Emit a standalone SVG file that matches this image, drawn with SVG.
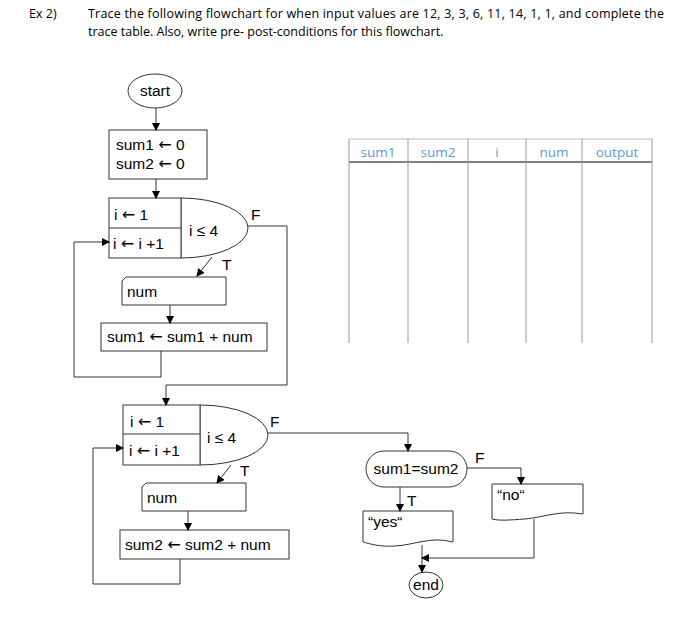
<svg xmlns="http://www.w3.org/2000/svg" width="674" height="620" viewBox="0 0 674 620">
<defs>
<marker id="ah" markerWidth="8" markerHeight="8" refX="7" refY="4" orient="auto" markerUnits="userSpaceOnUse"><path d="M0,0 L8,4 L0,8 z" fill="#000"/></marker>
<style>
.s{fill:#fff;stroke:#333;stroke-width:1}
.c{fill:none;stroke:#333;stroke-width:1}
.t{font-family:"Liberation Sans",Arial,sans-serif;font-size:15.5px;fill:#000}
.a{font-family:"DejaVu Sans",sans-serif;font-size:16px}
.h{font-family:"Open Sans","Liberation Sans",sans-serif;font-size:13.5px;fill:#5b9bd5}
.q{font-family:"Open Sans","Liberation Sans",sans-serif;font-size:12.5px;fill:#000}
.g{stroke:#999;stroke-width:1}
</style>
</defs>
<rect width="674" height="620" fill="#fff"/>
<text class="q" x="29" y="18">Ex 2)</text>
<text class="q" x="88" y="18" textLength="576">Trace the following flowchart for when input values are 12, 3, 3, 6, 11, 14, 1, 1, and complete the</text>
<text class="q" x="88" y="36">trace table. Also, write pre- post-conditions for this flowchart.</text>

<g id="table">
<line x1="349" y1="139" x2="652" y2="139" stroke="#bbb"/>
<line x1="349" y1="162" x2="652" y2="162" stroke="#000"/>
<line class="g" x1="349" y1="139" x2="349" y2="343"/>
<line class="g" x1="408" y1="139" x2="408" y2="343"/>
<line class="g" x1="468" y1="139" x2="468" y2="343"/>
<line class="g" x1="526" y1="139" x2="526" y2="343"/>
<line class="g" x1="582" y1="139" x2="582" y2="343"/>
<line class="g" x1="652" y1="139" x2="652" y2="343"/>
<text class="h" x="378" y="157" text-anchor="middle">sum1</text>
<text class="h" x="438" y="157" text-anchor="middle">sum2</text>
<text class="h" x="497" y="157" text-anchor="middle">i</text>
<text class="h" x="554" y="157" text-anchor="middle">num</text>
<text class="h" x="617" y="157" text-anchor="middle">output</text>
</g>

<g id="start"><ellipse class="s" cx="155" cy="91" rx="27" ry="17"/><text class="t" x="155" y="96" text-anchor="middle">start</text></g>
<g id="init"><rect class="s" x="109" y="130" width="98" height="49"/><text class="t" x="116" y="150">sum1 <tspan class="a">←</tspan> 0</text><text class="t" x="116" y="169">sum2 <tspan class="a">←</tspan> 0</text></g>
<g id="loop1"><path class="s" d="M181,198 A67,30 0 0 1 181,258 Z"/><rect class="s" x="109" y="198" width="72" height="60"/><line class="c" x1="109" y1="228" x2="181" y2="228"/>
<text class="t" x="114" y="220">i <tspan class="a">←</tspan> 1</text><text class="t" x="113" y="249">i <tspan class="a">←</tspan> i +1</text><text class="t" x="189" y="236">i ≤ 4</text></g>
<g id="in1"><path class="s" d="M126,277 L226,277 L226,305 L122,305 L122,281 Z"/><text class="t" x="127" y="297">num</text></g>
<g id="add1"><rect class="s" x="101" y="323" width="166" height="28"/><text class="t" x="107" y="342">sum1 <tspan class="a">←</tspan> sum1 + num</text></g>
<g id="loop2"><path class="s" d="M200,405 A68,30 0 0 1 200,465 Z"/><rect class="s" x="123" y="405" width="77" height="60"/><line class="c" x1="123" y1="434" x2="200" y2="434"/>
<text class="t" x="130" y="427">i <tspan class="a">←</tspan> 1</text><text class="t" x="129" y="456">i <tspan class="a">←</tspan> i +1</text><text class="t" x="207" y="443">i ≤ 4</text></g>
<g id="in2"><path class="s" d="M146,483 L246,483 L246,511 L142,511 L142,487 Z"/><text class="t" x="147" y="503">num</text></g>
<g id="add2"><rect class="s" x="120" y="530" width="169" height="29"/><text class="t" x="125" y="550">sum2 <tspan class="a">←</tspan> sum2 + num</text></g>
<g id="cmp"><rect class="s" x="366" y="451" width="101" height="36" rx="18"/><text class="t" x="416" y="474" text-anchor="middle">sum1=sum2</text></g>
<g id="yes"><path class="s" d="M363,511 L453,511 L453,542 C430,536 415,545 395,546 C380,547 370,544 363,542 Z"/><text class="t" x="368" y="527">“yes“</text></g>
<g id="no"><path class="s" d="M492,484 L583,484 L583,514 C560,510 545,517 525,519 C510,520 500,521 492,519 Z"/><text class="t" x="497" y="500">“no“</text></g>
<g id="end"><ellipse class="s" cx="426" cy="585" rx="17" ry="13"/><text class="t" x="426" y="590" text-anchor="middle">end</text></g>

<g id="connectors">
<line class="c" x1="156" y1="108" x2="156" y2="130" marker-end="url(#ah)"/>
<line class="c" x1="156" y1="179" x2="156" y2="198" marker-end="url(#ah)"/>
<line class="c" x1="212" y1="257" x2="197" y2="276" marker-end="url(#ah)"/>
<line class="c" x1="170" y1="305" x2="170" y2="323" marker-end="url(#ah)"/>
<polyline class="c" points="161,351 161,377 74,377 74,242 109,242" marker-end="url(#ah)"/>
<polyline class="c" points="248,226 287,226 287,385 166,385 166,405" marker-end="url(#ah)"/>
<line class="c" x1="231" y1="465" x2="217" y2="483" marker-end="url(#ah)"/>
<line class="c" x1="188" y1="511" x2="188" y2="530" marker-end="url(#ah)"/>
<polyline class="c" points="180,559 180,584 93,584 93,448 123,448" marker-end="url(#ah)"/>
<polyline class="c" points="268,433 408,433 408,451" marker-end="url(#ah)"/>
<polyline class="c" points="467,468 521,468 521,484" marker-end="url(#ah)"/>
<line class="c" x1="400" y1="487" x2="400" y2="511" marker-end="url(#ah)"/>
<line class="c" x1="422" y1="545" x2="422" y2="572" marker-end="url(#ah)"/>
<polyline class="c" points="534,519 534,558 422,558" marker-end="url(#ah)"/>
<text class="t" x="251" y="220">F</text>
<text class="t" x="222" y="270">T</text>
<text class="t" x="270" y="427">F</text>
<text class="t" x="240" y="476">T</text>
<text class="t" x="475" y="463">F</text>
<text class="t" x="407" y="506">T</text>
</g>
</svg>
